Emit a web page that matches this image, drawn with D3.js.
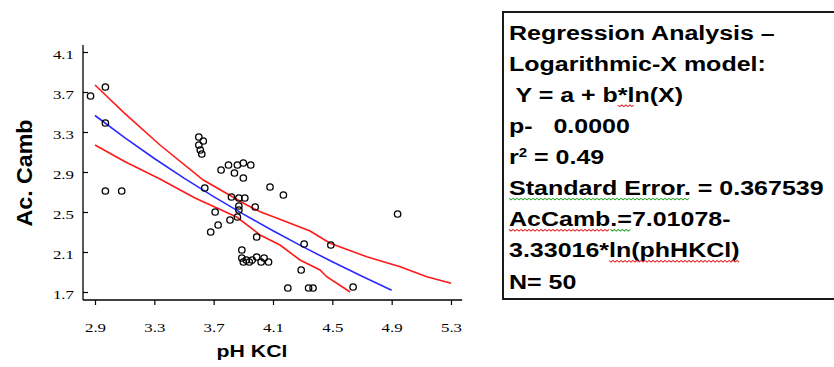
<!DOCTYPE html>
<html>
<head>
<meta charset="utf-8">
<script src="https://cdn.jsdelivr.net/npm/d3@7"></script>
<style>
  html, body { margin: 0; padding: 0; background: #ffffff; }
  svg { display: block; }
  .pre { white-space: pre; }
</style>
</head>
<body>
<svg id="chart" width="834" height="367"></svg>
<script>
// pH KCl (x) against Ac. Camb (y), 50 samples
const phKCl = [
  2.87, 2.97, 2.97, 2.97, 3.08,
  3.60, 3.63, 3.60, 3.61, 3.62,
  3.64, 3.75, 3.80, 3.84, 3.86, 3.90, 3.95, 3.90,
  3.82, 3.87, 3.91,
  3.71, 3.81, 3.86, 3.87, 3.98, 4.17, 4.08,
  3.68, 3.73, 3.99, 3.89,
  3.89, 3.90, 3.92, 3.94, 3.96, 3.99, 4.02, 4.04, 4.07,
  4.29, 4.20, 4.34, 4.37, 4.64, 4.31, 4.49, 4.94, 3.87
];
const acCamb = [
  3.66, 3.75, 3.39, 2.71, 2.71,
  3.25, 3.21, 3.17, 3.12, 3.08,
  2.74, 2.92, 2.97, 2.89, 2.97, 2.99, 2.97, 2.84,
  2.65, 2.64, 2.64,
  2.50, 2.42, 2.45, 2.52, 2.55, 2.67, 2.75,
  2.30, 2.37, 2.25, 2.12,
  2.04, 2.00, 2.02, 2.00, 2.02, 2.05, 2.00, 2.04, 2.00,
  1.92, 1.74, 1.74, 1.74, 1.75, 2.18, 2.17, 2.48, 2.56
];

// Fitted model: AcCamb = a + b*ln(pH KCl)
const coefA = 7.01078;
const coefB = -3.33016;
const fitX = [2.9, 3.1, 3.3, 3.5, 3.7, 3.9, 4.1, 4.3, 4.5, 4.7, 4.9];

// Upper and lower band traced along x
const upperX = [2.9, 3.1, 3.338, 3.63, 3.923, 4.013, 4.102, 4.35, 4.485, 4.732, 4.957, 5.137, 5.3];
const upperY = [3.77, 3.487, 3.17, 2.82, 2.57, 2.503, 2.453, 2.31, 2.187, 2.053, 1.953, 1.853, 1.787];
const lowerX = [2.9, 3.1, 3.338, 3.574, 3.855, 4.013, 4.147, 4.282, 4.417, 4.462, 4.62];
const lowerY = [3.17, 3.005, 2.83, 2.64, 2.45, 2.27, 2.17, 2.02, 1.92, 1.853, 1.70];

const xTicks = [2.9, 3.3, 3.7, 4.1, 4.5, 4.9, 5.3];
const yTicks = [1.7, 2.1, 2.5, 2.9, 3.3, 3.7, 4.1];

const summaryLines = [
  "Regression Analysis \u2013",
  "Logarithmic-X model:",
  " Y = a + b*ln(X)",
  "p-   0.0000",
  "r2",
  "Standard Error. = 0.367539",
  "AcCamb.=7.01078-",
  "3.33016*ln(phHKCl)",
  "N= 50"
];

const svg = d3.select("#chart");

const x = d3.scaleLinear().domain([2.9, 5.3]).range([95, 451]);
const y = d3.scaleLinear().domain([1.7, 4.1]).range([292, 52]);

const axisY0 = 300;   // x-axis baseline (pixels)
const axisX0 = 83;    // y-axis position (pixels)

// Axis lines
svg.append("line")
  .attr("x1", axisX0).attr("x2", axisX0)
  .attr("y1", y(4.17)).attr("y2", axisY0)
  .attr("stroke", "#000").attr("stroke-width", 1.3);
svg.append("line")
  .attr("x1", axisX0).attr("x2", x(5.375))
  .attr("y1", axisY0).attr("y2", axisY0)
  .attr("stroke", "#000").attr("stroke-width", 1.3);

// Bottom axis: ticks point down
const gx = svg.append("g")
  .attr("transform", `translate(0,${axisY0})`)
  .call(d3.axisBottom(x).tickValues(xTicks).tickSize(5).tickFormat(d3.format(".1f")));
gx.select(".domain").remove();
gx.selectAll(".tick line").attr("stroke", "#000").attr("stroke-width", 1.2);
gx.selectAll(".tick text")
  .attr("y", 0).attr("dy", 0)
  .attr("transform", "translate(0,32) scale(1.3,1)")
  .attr("font-family", "'Liberation Serif', 'DejaVu Serif', serif")
  .attr("font-size", 13)
  .attr("fill", "#000");

// Left axis: ticks point inward
const gy = svg.append("g")
  .attr("transform", `translate(${axisX0},0)`)
  .call(d3.axisLeft(y).tickValues(yTicks).tickSize(-5).tickFormat(d3.format(".1f")));
gy.select(".domain").remove();
gy.selectAll(".tick line").attr("stroke", "#000").attr("stroke-width", 1.2);
gy.selectAll(".tick text")
  .attr("x", 0).attr("dy", "0.4em")
  .attr("text-anchor", "end")
  .attr("transform", "translate(-9,1) scale(1.3,1)")
  .attr("font-family", "'Liberation Serif', 'DejaVu Serif', serif")
  .attr("font-size", 13)
  .attr("fill", "#000");

// Axis titles
svg.append("text")
  .attr("transform", "translate(252,357) scale(1.25,1)")
  .attr("text-anchor", "middle")
  .attr("font-family", "'Liberation Sans', Arial, sans-serif")
  .attr("font-weight", "bold")
  .attr("font-size", 17)
  .text("pH KCl");

svg.append("text")
  .attr("transform", "translate(32,173) rotate(-90)")
  .attr("text-anchor", "middle")
  .attr("font-family", "'Liberation Sans', Arial, sans-serif")
  .attr("font-weight", "bold")
  .attr("font-size", 22)
  .attr("textLength", 107)
  .attr("lengthAdjust", "spacingAndGlyphs")
  .text("Ac. Camb");

// Bands and fitted curve
const lineGen = d3.line().x(d => x(d[0])).y(d => y(d[1]));

svg.append("path")
  .datum(d3.zip(upperX, upperY))
  .attr("d", lineGen)
  .attr("fill", "none").attr("stroke", "#ff1a1a").attr("stroke-width", 1.6);
svg.append("path")
  .datum(d3.zip(lowerX, lowerY))
  .attr("d", lineGen)
  .attr("fill", "none").attr("stroke", "#ff1a1a").attr("stroke-width", 1.6);
svg.append("path")
  .datum(fitX.map(v => [v, coefA + coefB * Math.log(v)]))
  .attr("d", lineGen)
  .attr("fill", "none").attr("stroke", "#2a2aff").attr("stroke-width", 1.6);

// Observations
svg.append("g")
  .selectAll("circle")
  .data(d3.zip(phKCl, acCamb))
  .join("circle")
  .attr("cx", d => x(d[0]))
  .attr("cy", d => y(d[1]))
  .attr("r", 3.2)
  .attr("fill", "none")
  .attr("stroke", "#000")
  .attr("stroke-width", 1.3);

// Summary box
svg.append("rect")
  .attr("x", 503).attr("y", 12)
  .attr("width", 345).attr("height", 287)
  .attr("fill", "#fff")
  .attr("stroke", "#1a1a1a").attr("stroke-width", 2);

const box = svg.append("g").attr("transform", "translate(509,0) scale(1.25,1)");
const lineTop = 39.8, lineStep = 31.1;

const texts = summaryLines.map((s, i) => {
  const t = box.append("text")
    .attr("class", "pre")
    .attr("x", 0)
    .attr("y", lineTop + i * lineStep)
    .attr("font-family", "'Liberation Sans', Arial, sans-serif")
    .attr("font-weight", "bold")
    .attr("font-size", 20)
    .attr("fill", "#000");
  if (i === 4) {
    t.append("tspan").text("r");
    t.append("tspan").attr("font-size", 12).attr("dy", -7).text("2");
    t.append("tspan").attr("dy", 7).text(" = 0.49");
  } else {
    t.text(s);
  }
  return t;
});

// Proofing squiggles beneath some words
function squiggle(lineIdx, start, count, color) {
  const node = texts[lineIdx].node();
  const x0 = node.getSubStringLength(0, start);
  const w = node.getSubStringLength(start, count);
  const base = lineTop + lineIdx * lineStep + 3;
  const pts = [];
  const step = 2 / 1.25;
  for (let k = 0, px = x0; px <= x0 + w; k++, px += step) {
    pts.push([px, base + (k % 2 === 0 ? 0 : 1.6)]);
  }
  box.append("path")
    .attr("d", d3.line()(pts))
    .attr("fill", "none")
    .attr("stroke", color)
    .attr("stroke-width", 0.9);
}
squiggle(2, 10, 2, "#e03030");
squiggle(5, 0, 15, "#33a833");
squiggle(6, 0, 6, "#e03030");
squiggle(6, 6, 2, "#33a833");
squiggle(7, 8, 10, "#e03030");
</script>
</body>
</html>
